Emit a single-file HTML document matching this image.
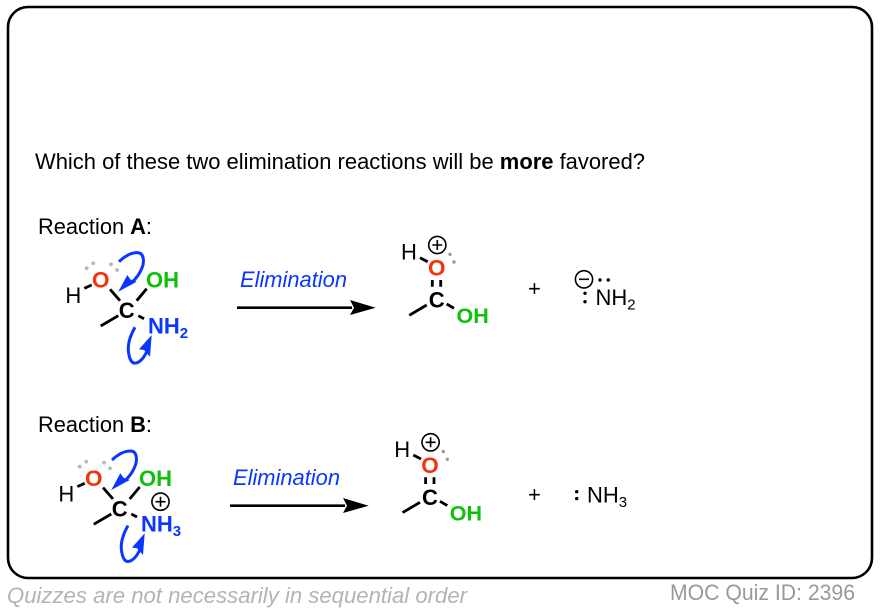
<!DOCTYPE html>
<html><head><meta charset="utf-8"><style>
html,body{margin:0;padding:0;background:#fff}
svg{display:block}
text{font-family:"Liberation Sans",Arial,sans-serif}
.b{stroke:#000;stroke-width:2.8;fill:none}
.r{fill:#f5320f}.g{fill:#0cc00c}.bl{fill:#0a36ff}
.lp{fill:#b8b8b8}
.cur{stroke:#0a36ff;stroke-width:3;fill:none}
</style></head><body>
<svg width="880" height="612" viewBox="0 0 880 612" xmlns="http://www.w3.org/2000/svg">
<rect width="880" height="612" fill="#fff"/>
<rect x="8" y="7" width="864" height="571" rx="20" ry="20" fill="#fff" stroke="#000" stroke-width="2.6"/>
<text x="35" y="169" font-size="22" textLength="610" lengthAdjust="spacingAndGlyphs">Which of these two elimination reactions will be <tspan font-weight="bold">more</tspan> favored?</text>
<text x="38" y="234" font-size="22" textLength="114" lengthAdjust="spacingAndGlyphs">Reaction <tspan font-weight="bold">A</tspan>:</text>
<text x="38" y="432" font-size="22" textLength="114" lengthAdjust="spacingAndGlyphs">Reaction <tspan font-weight="bold">B</tspan>:</text>

<defs>
<g id="left">
<path class="b" d="M84.3 288.3L91.7 285M110 289.3L120 300.7M136.7 300.7L146.7 288.7M100.7 326L118.3 315.7M138.3 315.7L144 318.7"/>
<circle class="lp" cx="86.7" cy="268.3" r="1.9"/><circle class="lp" cx="93.3" cy="263.3" r="1.9"/>
<circle class="lp" cx="111" cy="264.3" r="1.9"/><circle class="lp" cx="117" cy="270" r="1.9"/>
<text x="65.4" y="303" font-size="22">H</text>
<text x="92" y="287.5" class="r" font-size="22.5" font-weight="bold">O</text>
<text x="146" y="287.5" class="g" font-size="22" font-weight="bold">OH</text>
<text x="118.7" y="318" font-size="22" font-weight="bold">C</text>
<path class="cur" d="M119 261.7C126 255 133 252.5 138 252.7C144 253 144.5 262 142 268C139.5 274 136 279 131 283"/>
<path class="bl" d="M118.3 291.7L127.3 275L130.5 279.5L136.7 281.7Z"/>
<path class="cur" d="M135 327.3C130 336 127.5 345 128.5 352C129.5 360 132 364 136 363C141 362 145 356 148 349"/>
<path class="bl" d="M151.7 335L139 349.3L144 350L150 356.7Z"/>
</g>
<g id="right">
<path class="b" d="M420 257.7L427.7 261.7M432.3 280V286.7M440.7 280V286.7M409.3 315.3L426.7 305M446.7 304L454 308.3"/>
<text x="401" y="259.5" font-size="22">H</text>
<circle cx="437.3" cy="245" r="8.6" fill="none" stroke="#000" stroke-width="1.6"/>
<path d="M432.3 245H442.3M437.3 240V250" stroke="#000" stroke-width="1.6"/>
<circle cx="450" cy="254.3" r="1.7" fill="#999"/><circle cx="454" cy="262" r="1.7" fill="#999"/>
<text x="428" y="275.7" class="r" font-size="22.5" font-weight="bold">O</text>
<text x="428.7" y="307.5" font-size="22" font-weight="bold">C</text>
<text x="456.5" y="323" class="g" font-size="21.5" font-weight="bold">OH</text>
</g>
<g id="arr">
<path d="M237 307.7H352" stroke="#000" stroke-width="2.6"/>
<path d="M375.7 307.7L350 300L354 307.7L350 315Z" fill="#000"/>
<text x="240" y="287" class="bl" font-size="22" font-style="italic" textLength="107" lengthAdjust="spacingAndGlyphs">Elimination</text>
</g>
</defs>

<use href="#left"/>
<use href="#left" transform="translate(-7 198.3)"/>
<use href="#right"/>
<use href="#right" transform="translate(-6.7 197.3)"/>
<use href="#arr"/>
<use href="#arr" transform="translate(-7 198)"/>

<text x="148" y="333.3" class="bl" font-size="22" font-weight="bold">NH<tspan font-size="15" dy="4.5">2</tspan></text>
<text x="141" y="531.6" class="bl" font-size="22" font-weight="bold">NH<tspan font-size="15" dy="4.5">3</tspan></text>
<circle cx="160.5" cy="501.7" r="8.6" fill="none" stroke="#000" stroke-width="1.6"/>
<path d="M155.5 501.7H165.5M160.5 496.7V506.7" stroke="#000" stroke-width="1.6"/>

<text x="528" y="296" font-size="22">+</text>
<text x="528" y="502" font-size="22">+</text>

<circle cx="584" cy="279.3" r="8.6" fill="none" stroke="#000" stroke-width="1.6"/>
<path d="M579 279.3H589" stroke="#000" stroke-width="1.6"/>
<circle cx="600" cy="280" r="1.7"/><circle cx="608.3" cy="280" r="1.7"/>
<circle cx="585" cy="293.3" r="1.7"/><circle cx="585" cy="301.7" r="1.7"/>
<text x="595.5" y="305" font-size="22">NH<tspan font-size="15" dy="4.5">2</tspan></text>

<circle cx="576.7" cy="491.7" r="1.7"/><circle cx="576.7" cy="498.6" r="1.7"/>
<text x="587" y="502.5" font-size="22">NH<tspan font-size="15" dy="4.5">3</tspan></text>

<text x="7" y="603" font-size="22" font-style="italic" fill="#b4b4b4" textLength="460" lengthAdjust="spacingAndGlyphs">Quizzes are not necessarily in sequential order</text>
<text x="670" y="600" font-size="22" fill="#999" textLength="185" lengthAdjust="spacingAndGlyphs">MOC Quiz ID: 2396</text>
</svg>
</body></html>
